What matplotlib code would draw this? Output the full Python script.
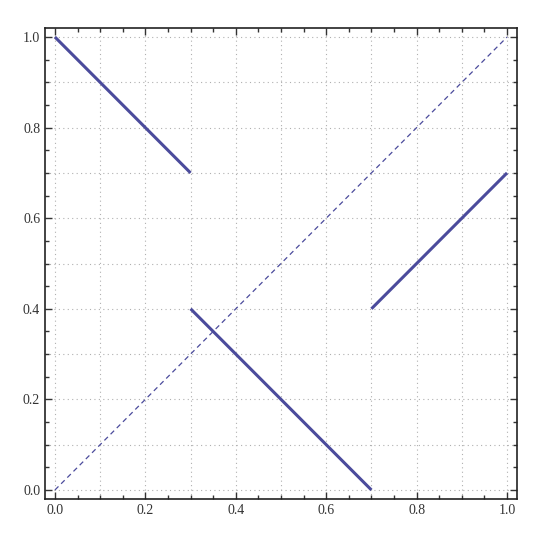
import matplotlib
matplotlib.use("Agg")
import matplotlib.pyplot as plt
import numpy as np
from matplotlib.ticker import MultipleLocator

# piecewise segments (x start, x end, y start, y end)
seg_x = [[0.0, 0.3], [0.3, 0.7], [0.7, 1.0]]
seg_y = [[1.0, 0.7], [0.4, 0.0], [0.4, 0.7]]
diag_x = [0.0, 1.0]
diag_y = [0.0, 1.0]

line_color = "#4b4b9c"

plt.rcParams['font.family'] = ['Liberation Serif', 'DejaVu Serif']

fig = plt.figure(figsize=(5.5, 5.34), dpi=100)
ax = fig.add_axes([0.0818, 0.0655, 0.8582, 0.8821])

ax.plot(diag_x, diag_y, color=line_color, lw=0.9, dashes=(4, 3))
for xs, ys in zip(seg_x, seg_y):
    ax.plot(xs, ys, color=line_color, lw=2.2, solid_capstyle='butt')

ax.set_xlim(-0.022, 1.022)
ax.set_ylim(-0.02, 1.02)

ax.xaxis.set_major_locator(MultipleLocator(0.2))
ax.yaxis.set_major_locator(MultipleLocator(0.2))
ax.xaxis.set_minor_locator(MultipleLocator(0.05))
ax.yaxis.set_minor_locator(MultipleLocator(0.05))
ax.tick_params(which='both', direction='in', top=True, right=True,
               labelsize=10, colors='#333333', width=1)
ax.tick_params(which='major', length=5)
ax.tick_params(which='minor', length=3)
ax.xaxis.set_major_formatter(plt.FuncFormatter(lambda v, p: f"{v:.1f}"))
ax.yaxis.set_major_formatter(plt.FuncFormatter(lambda v, p: f"{v:.1f}"))

# grid every 0.1
for g in np.arange(0, 1.01, 0.1):
    ax.axvline(g, color='#b0b0b0', lw=0.8, ls=(0, (1, 3)), zorder=0)
    ax.axhline(g, color='#b0b0b0', lw=0.8, ls=(0, (1, 3)), zorder=0)

for s in ax.spines.values():
    s.set_linewidth(1.2)
    s.set_color('#222222')

fig.savefig("out.png", dpi=100)
